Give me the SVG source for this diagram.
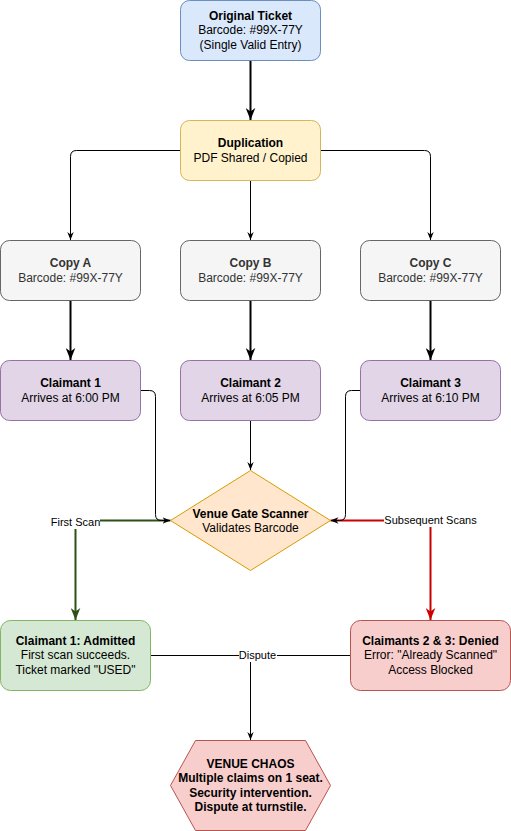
<svg xmlns="http://www.w3.org/2000/svg" width="511" height="831" viewBox="0 0 511 831">
<style>
text{font-family:"Liberation Sans",Arial,sans-serif;font-size:12px;fill:#000;text-anchor:middle}
.b{font-weight:bold}
.lbl{font-size:11px}
.g text{fill:#333333}
.e{fill:none;stroke:#000;stroke-width:1}
.thick{stroke-width:2}
</style>
<defs>
<marker id="a" viewBox="0 0 10 8" refX="10" refY="4" markerWidth="8" markerHeight="7" markerUnits="userSpaceOnUse" orient="auto"><path d="M0,0 L10,4 L0,8 L3,4 Z" fill="#000"/></marker>
<marker id="at" viewBox="0 0 10 8" refX="10" refY="4" markerWidth="12" markerHeight="10" markerUnits="userSpaceOnUse" orient="auto"><path d="M0,0 L10,4 L0,8 L3,4 Z" fill="#000"/></marker>
<marker id="ag" viewBox="0 0 10 8" refX="10" refY="4" markerWidth="12" markerHeight="10" markerUnits="userSpaceOnUse" orient="auto"><path d="M0,0 L10,4 L0,8 L3,4 Z" fill="#2D5016"/></marker>
<marker id="ar" viewBox="0 0 10 8" refX="10" refY="4" markerWidth="12" markerHeight="10" markerUnits="userSpaceOnUse" orient="auto"><path d="M0,0 L10,4 L0,8 L3,4 Z" fill="#CC0000"/></marker>
</defs>
<g id="connectors">
<path class="e thick" d="M250.5,60.5 V120" marker-end="url(#at)"/>
<path class="e" d="M180.5,150.5 H76.5 Q70.5,150.5 70.5,156.5 V240" marker-end="url(#a)"/>
<path class="e" d="M250.5,180.5 V240" marker-end="url(#a)"/>
<path class="e" d="M320.5,150.5 H424.5 Q430.5,150.5 430.5,156.5 V240" marker-end="url(#a)"/>
<path class="e thick" d="M70.5,300.5 V360" marker-end="url(#at)"/>
<path class="e thick" d="M250.5,300.5 V360" marker-end="url(#at)"/>
<path class="e thick" d="M430.5,300.5 V360" marker-end="url(#at)"/>
<path class="e" d="M250.5,420.5 V470" marker-end="url(#a)"/>
<path fill="none" stroke="#2D5016" stroke-width="2" d="M170.5,520.5 H75.5 V620" marker-end="url(#ag)"/>
<path fill="none" stroke="#CC0000" stroke-width="2" d="M330.5,520.5 H430.5 V620" marker-end="url(#ar)"/>
<path class="e" d="M140.5,390.5 H149.5 Q155.5,390.5 155.5,396.5 V514.5 Q155.5,520.5 161.5,520.5 H170.5" marker-end="url(#a)"/>
<path class="e" d="M360.5,390.5 H351.5 Q345.5,390.5 345.5,396.5 V514.5 Q345.5,520.5 339.5,520.5 H330.5" marker-end="url(#a)"/>
<path class="e" d="M150.5,655.5 H350.5"/>
<path class="e" d="M250.5,655.5 V740" marker-end="url(#a)"/>
<rect x="51" y="515" width="49" height="14" fill="#fff"/>
<text class="lbl" x="75.5" y="526">First Scan</text>
<rect x="384" y="513" width="93" height="14" fill="#fff"/>
<text class="lbl" x="430.5" y="524">Subsequent Scans</text>
<rect x="239" y="649" width="38" height="13" fill="#fff"/>
<text class="lbl" x="257.5" y="659">Dispute</text>
</g>
<g id="original">
<rect x="180.5" y="0.5" width="140" height="60" rx="9" fill="#dae8fc" stroke="#6c8ebf"/>
<text class="b" x="250.5" y="20">Original Ticket</text>
<text x="250.5" y="34">Barcode: #99X-77Y</text>
<text x="250.5" y="49">(Single Valid Entry)</text>
</g>
<g id="duplication">
<rect x="180.5" y="120.5" width="140" height="60" rx="9" fill="#fff2cc" stroke="#d6b656"/>
<text class="b" x="250.5" y="147">Duplication</text>
<text x="250.5" y="162">PDF Shared / Copied</text>
</g>
<g id="copyA" class="g">
<rect x="0.5" y="240.5" width="140" height="60" rx="9" fill="#f5f5f5" stroke="#666666"/>
<text class="b" x="70.5" y="267">Copy A</text>
<text x="70.5" y="282">Barcode: #99X-77Y</text>
</g>
<g id="copyB" class="g">
<rect x="180.5" y="240.5" width="140" height="60" rx="9" fill="#f5f5f5" stroke="#666666"/>
<text class="b" x="250.5" y="267">Copy B</text>
<text x="250.5" y="282">Barcode: #99X-77Y</text>
</g>
<g id="copyC" class="g">
<rect x="360.5" y="240.5" width="140" height="60" rx="9" fill="#f5f5f5" stroke="#666666"/>
<text class="b" x="430.5" y="267">Copy C</text>
<text x="430.5" y="282">Barcode: #99X-77Y</text>
</g>
<g id="claimant1">
<rect x="0.5" y="360.5" width="140" height="60" rx="9" fill="#e1d5e7" stroke="#9673a6"/>
<text class="b" x="70.5" y="387">Claimant 1</text>
<text x="70.5" y="402">Arrives at 6:00 PM</text>
</g>
<g id="claimant2">
<rect x="180.5" y="360.5" width="140" height="60" rx="9" fill="#e1d5e7" stroke="#9673a6"/>
<text class="b" x="250.5" y="387">Claimant 2</text>
<text x="250.5" y="402">Arrives at 6:05 PM</text>
</g>
<g id="claimant3">
<rect x="360.5" y="360.5" width="140" height="60" rx="9" fill="#e1d5e7" stroke="#9673a6"/>
<text class="b" x="430.5" y="387">Claimant 3</text>
<text x="430.5" y="402">Arrives at 6:10 PM</text>
</g>
<g id="scanner">
<path d="M250.5,470.5 L330.5,520.5 L250.5,570.5 L170.5,520.5 Z" fill="#ffe6cc" stroke="#d79b00"/>
<text class="b" x="250.5" y="518">Venue Gate Scanner</text>
<text x="250.5" y="532">Validates Barcode</text>
</g>
<g id="admitted">
<rect x="0.5" y="620.5" width="150" height="70" rx="10" fill="#d5e8d4" stroke="#82b366"/>
<text class="b" x="75.5" y="645">Claimant 1: Admitted</text>
<text x="75.5" y="659">First scan succeeds.</text>
<text x="75.5" y="674">Ticket marked "USED"</text>
</g>
<g id="denied">
<rect x="350.5" y="620.5" width="160" height="70" rx="10" fill="#f8cecc" stroke="#b85450"/>
<text class="b" x="430.5" y="645">Claimants 2 &amp; 3: Denied</text>
<text x="430.5" y="659">Error: "Already Scanned"</text>
<text x="430.5" y="674">Access Blocked</text>
</g>
<g id="chaos">
<path d="M195.5,740.5 H305.5 L330.5,785.5 L305.5,830.5 H195.5 L170.5,785.5 Z" fill="#f8cecc" stroke="#b85450"/>
<text class="b" x="250.5" y="768">VENUE CHAOS</text>
<text class="b" x="250.5" y="782">Multiple claims on 1 seat.</text>
<text class="b" x="250.5" y="797">Security intervention.</text>
<text class="b" x="250.5" y="811">Dispute at turnstile.</text>
</g>
</svg>
